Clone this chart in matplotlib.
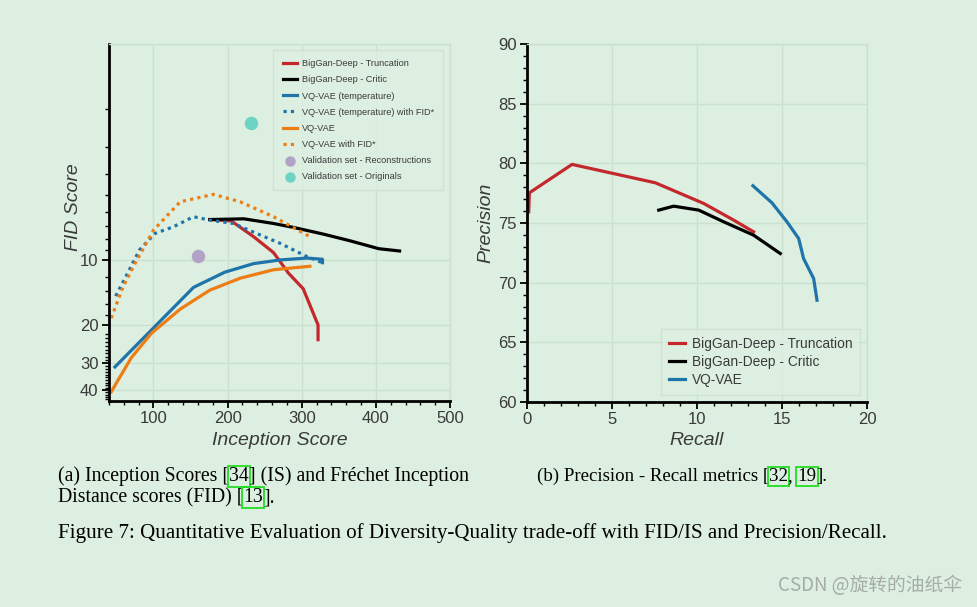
import numpy as np
import matplotlib
matplotlib.use("Agg")
import matplotlib.pyplot as plt
from matplotlib.ticker import FixedLocator, FixedFormatter, NullFormatter, MultipleLocator

# ---- data (a) FID vs IS
trunc_is = [176, 205, 235, 262, 282, 302, 322, 322]
trunc_fid = [6.5, 6.6, 7.8, 9.25, 11.5, 13.6, 20.0, 23.4]
critic_is = [176, 222, 262, 289, 329, 365, 404, 432]
critic_fid = [6.5, 6.45, 6.78, 7.07, 7.59, 8.15, 8.87, 9.09]
vqt_is = [48, 154, 196, 235, 271, 307, 328, 328]
vqt_fid = [31.3, 13.4, 11.4, 10.4, 10.0, 9.8, 9.93, 10.3]
vqt_star_is = [49, 63, 81, 102, 127, 154, 176, 208, 239, 271, 307, 328]
vqt_star_fid = [14.7, 11.9, 9.0, 7.54, 7.02, 6.31, 6.54, 6.78, 7.54, 8.38, 9.65, 10.3]
vq_is = [43, 70, 97, 136, 176, 217, 262, 311]
vq_fid = [40.8, 28.4, 21.9, 16.9, 13.8, 12.15, 11.1, 10.7]
vq_star_is = [43, 59, 75, 100, 136, 181, 217, 262, 311]
vq_star_fid = [18.6, 13.3, 10.4, 7.28, 5.38, 4.97, 5.38, 6.31, 7.8]
recon_is, recon_fid = [160], [9.55]
orig_is, orig_fid = [232], [2.31]

# ---- data (b) precision vs recall
trunc_rec = [0.1, 0.14, 2.65, 7.55, 10.39, 12.16, 13.33]
trunc_prec = [75.94, 77.53, 79.91, 78.37, 76.64, 75.24, 74.26]
critic_rec = [7.75, 8.63, 10.10, 11.57, 13.33, 14.90]
critic_prec = [76.08, 76.41, 76.08, 75.10, 73.98, 72.44]
vq_rec = [13.29, 14.41, 15.29, 15.98, 16.27, 16.86, 17.06]
vq_prec = [78.12, 76.69, 75.10, 73.70, 72.02, 70.35, 68.53]

BG = "#dcefe0"
GRID = "#cbe0cf"
RED = "#c3282d"
BLUE = "#1f74aa"
ORANGE = "#ee7d14"
PURPLE = "#b3a2c8"
CYAN = "#6dd3c5"
TXT = "#3a3a3a"

plt.rcParams["font.family"] = ["Liberation Sans", "DejaVu Sans"]
fig = plt.figure(figsize=(9.77, 6.07), dpi=100, facecolor=BG)

def style(ax):
    ax.set_facecolor(BG)
    for s in ["top", "right"]:
        ax.spines[s].set_color(GRID)
        ax.spines[s].set_linewidth(1)
    for s in ["left", "bottom"]:
        ax.spines[s].set_color("black")
        ax.spines[s].set_linewidth(2)
    ax.grid(True, which="major", color=GRID, lw=1)
    ax.set_axisbelow(True)
    ax.tick_params(which="major", length=5, width=1.3, color="black", pad=2.5,
                   labelsize=12, labelcolor=TXT)
    ax.tick_params(which="minor", length=3, width=1, color="black")

lw = 2.3
# ---------- left
ax1 = fig.add_axes([109 / 977, 1 - 401 / 607, 341 / 977, 357 / 607])
style(ax1)
ax1.set_yscale("log")
ax1.set_xlim(40, 500)
ax1.set_ylim(45, 1.0)
ax1.yaxis.set_major_locator(FixedLocator([10, 20, 30, 40]))
ax1.yaxis.set_major_formatter(FixedFormatter(["10", "20", "30", "40"]))
minor = list(range(2, 10)) + list(range(12, 20, 2)) + list(range(22, 30)) + list(range(31, 40)) + list(range(41, 45))
ax1.yaxis.set_minor_locator(FixedLocator(minor))
ax1.yaxis.set_minor_formatter(NullFormatter())
ax1.xaxis.set_major_locator(FixedLocator([100, 200, 300, 400, 500]))
ax1.xaxis.set_minor_locator(MultipleLocator(20))

ax1.plot(trunc_is, trunc_fid, color=RED, lw=lw, label="BigGan-Deep - Truncation")
ax1.plot(critic_is, critic_fid, color="black", lw=lw, label="BigGan-Deep - Critic")
ax1.plot(vqt_is, vqt_fid, color=BLUE, lw=lw, label="VQ-VAE (temperature)")
ax1.plot(vqt_star_is, vqt_star_fid, color=BLUE, lw=lw, ls=(0, (1, 1.3)),
         label="VQ-VAE (temperature) with FID*")
ax1.plot(vq_is, vq_fid, color=ORANGE, lw=lw, label="VQ-VAE")
ax1.plot(vq_star_is, vq_star_fid, color=ORANGE, lw=lw, ls=(0, (1, 1.3)),
         label="VQ-VAE with FID*")
ax1.scatter(recon_is, recon_fid, s=75, color=PURPLE, zorder=3,
            label="Validation set - Reconstructions")
ax1.scatter(orig_is, orig_fid, s=75, color=CYAN, zorder=3,
            label="Validation set - Originals")
leg1 = ax1.legend(loc="upper right", bbox_to_anchor=(0.98, 0.983), fontsize=6.6,
                  frameon=True, fancybox=False, facecolor=BG, edgecolor=GRID,
                  handlelength=1.6, handletextpad=0.5, markerscale=0.75,
                  labelspacing=0.78, borderpad=1.0, borderaxespad=0)
for t in leg1.get_texts():
    t.set_color(TXT)
ax1.set_xlabel("Inception Score", fontsize=14, style="italic", color=TXT, labelpad=4)
ax1.set_ylabel("FID Score", fontsize=14, style="italic", color=TXT)
ax1.yaxis.set_label_coords(-0.08, 0.543)

# ---------- right
ax2 = fig.add_axes([527 / 977, 1 - 402 / 607, 340 / 977, 358 / 607])
style(ax2)
ax2.set_xlim(0, 20)
ax2.set_ylim(60, 90)
ax2.xaxis.set_major_locator(MultipleLocator(5))
ax2.xaxis.set_minor_locator(MultipleLocator(1))
ax2.yaxis.set_major_locator(MultipleLocator(5))
ax2.yaxis.set_minor_locator(MultipleLocator(1))
ax2.plot(trunc_rec, trunc_prec, color=RED, lw=lw, label="BigGan-Deep - Truncation")
ax2.plot(critic_rec, critic_prec, color="black", lw=lw, label="BigGan-Deep - Critic")
ax2.plot(vq_rec, vq_prec, color=BLUE, lw=lw, label="VQ-VAE")
leg2 = ax2.legend(loc="lower right", bbox_to_anchor=(0.98, 0.02), fontsize=9.9,
                  frameon=True, fancybox=False, facecolor=BG, edgecolor=GRID,
                  handlelength=1.2, handletextpad=0.5, labelspacing=0.3,
                  borderpad=0.55, borderaxespad=0)
for t in leg2.get_texts():
    t.set_color(TXT)
ax2.set_xlabel("Recall", fontsize=14, style="italic", color=TXT, labelpad=3)
ax2.set_ylabel("Precision", fontsize=14, style="italic", color=TXT)
ax2.yaxis.set_label_coords(-0.095, 0.5)

# ---------- captions
renderer = fig.canvas.get_renderer()
box = dict(boxstyle="square,pad=0.06", fc="none", ec="#22dd22", lw=1.3)

def seg_text(x, y, parts, size):
    for s, boxed in parts:
        t = fig.text(x, y, s, fontsize=size, family="Liberation Serif", color="black",
                     va="baseline", bbox=box if boxed else None)
        x += t.get_window_extent(renderer).width / fig.bbox.width

seg_text(58 / 977, 1 - 481 / 607, [("(a) Inception Scores [", False), ("34", True),
                                   ("] (IS) and Fréchet Inception", False)], 14.2)
seg_text(58 / 977, 1 - 502 / 607, [("Distance scores (FID) [", False), ("13", True), ("].", False)], 14.2)
seg_text(537 / 977, 1 - 481 / 607, [("(b) Precision - Recall metrics [", False), ("32", True),
                                    (", ", False), ("19", True), ("].", False)], 13.6)
fig.text(58 / 977, 1 - 538 / 607,
         "Figure 7: Quantitative Evaluation of Diversity-Quality trade-off with FID/IS and Precision/Recall.",
         fontsize=15.1, family="Liberation Serif", color="black", va="baseline")

fig.text(962 / 977, 1 - 591 / 607, "CSDN @旋转的油纸伞", fontsize=13.5, ha="right",
         va="baseline", color="#a6ada8", family=["Noto Sans CJK SC", "DejaVu Sans"])

fig.savefig("out.png", dpi=100, facecolor=BG)
